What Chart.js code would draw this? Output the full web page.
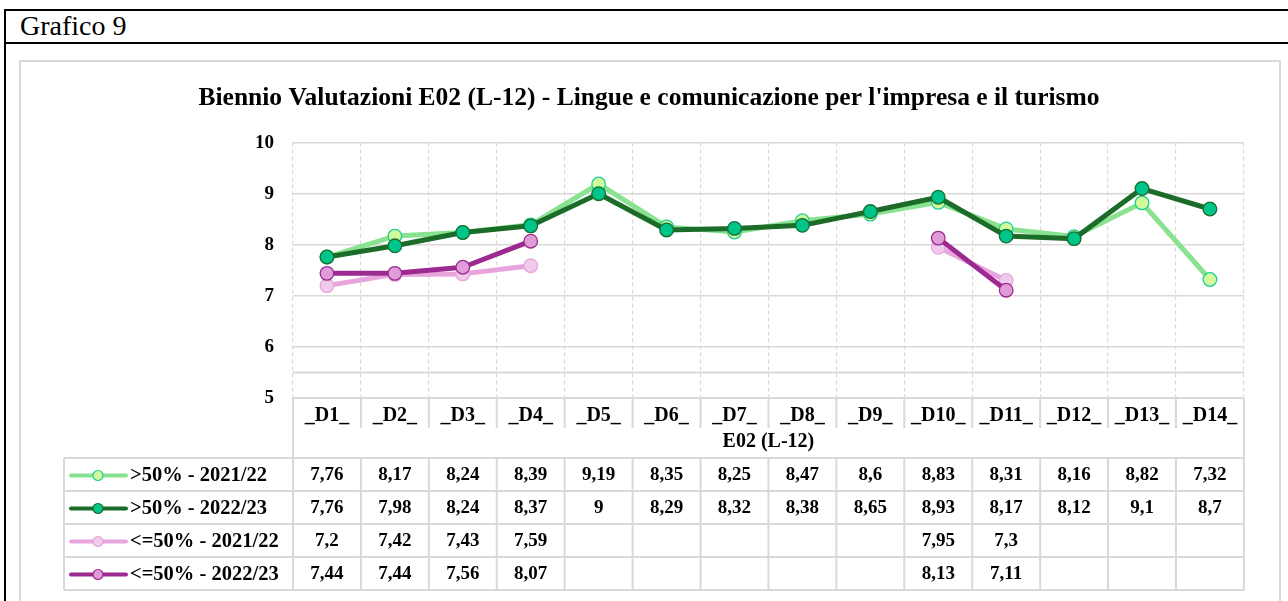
<!DOCTYPE html>
<html>
<head>
<meta charset="utf-8">
<script src="https://cdn.jsdelivr.net/npm/chart.js@4.4.0/dist/chart.umd.min.js"></script>
<style>
html,body{margin:0;padding:0;background:#fff;width:1288px;height:601px;overflow:hidden;}
#frame{position:absolute;left:4px;top:9px;width:1400px;height:700px;border:2px solid #000;}
#head{position:absolute;left:0;top:0;width:100%;height:31px;border-bottom:2px solid #000;}
#head span{position:absolute;left:14px;top:1px;font:28px/1 'Liberation Serif',serif;color:#000;}
#box{position:absolute;left:19px;top:60px;width:1258px;height:600px;border:2px solid #d9d9d9;}
#wrap{position:absolute;left:0;top:0;}
</style>
</head>
<body>
<div id="frame"><div id="head"><span>Grafico 9</span></div></div>
<div id="box"></div>
<div id="wrap"><canvas id="chart" width="1252" height="601"></canvas></div>
<script>
const chartTitle = "Biennio Valutazioni E02 (L-12) - Lingue e comunicazione per l'impresa e il turismo";
const axisGroup = 'E02 (L-12)';
const categories = ['_D1_','_D2_','_D3_','_D4_','_D5_','_D6_','_D7_','_D8_','_D9_','_D10_','_D11_','_D12_','_D13_','_D14_'];
const seriesNames = ['>50% - 2021/22','>50% - 2022/23','<=50% - 2021/22','<=50% - 2022/23'];
const over2122  = [7.76,8.17,8.24,8.39,9.19,8.35,8.25,8.47,8.6,8.83,8.31,8.16,8.82,7.32];
const over2223  = [7.76,7.98,8.24,8.37,9,8.29,8.32,8.38,8.65,8.93,8.17,8.12,9.1,8.7];
const under2122 = [7.2,7.42,7.43,7.59,null,null,null,null,null,7.95,7.3,null,null,null];
const under2223 = [7.44,7.44,7.56,8.07,null,null,null,null,null,8.13,7.11,null,null,null];
const yMin = 5, yMax = 10, yStep = 1;

const FONT = "'Liberation Serif', serif";
const GRID = '#d9d9d9';

const styles = [
  {line:'#88e28f', fill:'#d2fb9c', edge:'#1fcf96'},
  {line:'#1b6c29', fill:'#00c58b', edge:'#17702c'},
  {line:'#e8a4dd', fill:'#f1cbec', edge:'#e8a4dd'},
  {line:'#9c2a8f', fill:'#e09bd9', edge:'#9c2a8f'}
];
const allSeries = [over2122, over2223, under2122, under2223];

const fmt = v => v==null ? '' : String(v).replace('.', ',');

// data table drawn under the plot, columns taken from the x scale
const dataTable = {
  id:'dataTable',
  beforeDatasetsDraw(chart){
    const {ctx, chartArea:a, scales:{y}} = chart;
    ctx.save();
    ctx.strokeStyle = GRID; ctx.lineWidth = 2;
    const yy = y.getPixelForValue(5.5);
    ctx.beginPath(); ctx.moveTo(a.left, yy); ctx.lineTo(a.right, yy); ctx.stroke();
    ctx.restore();
  },
  afterDraw(chart){
    const {ctx, chartArea:a, scales:{x}} = chart;
    const n = categories.length;
    const colW = (a.right - a.left)/n;
    const catBottom = a.bottom + 30;
    const rowsTop = a.bottom + 60;
    const rowH = 33;
    const legLeft = a.left - 229;
    ctx.save();
    ctx.strokeStyle = GRID; ctx.lineWidth = 2;
    ctx.beginPath();
    for (let i=0;i<=n;i++){
      const xx = a.left + i*colW;
      ctx.moveTo(xx, a.bottom); ctx.lineTo(xx, catBottom);
      ctx.moveTo(xx, rowsTop); ctx.lineTo(xx, rowsTop + rowH*seriesNames.length);
    }
    ctx.moveTo(a.left, a.bottom); ctx.lineTo(a.left, rowsTop);
    ctx.moveTo(a.right, a.bottom); ctx.lineTo(a.right, rowsTop);
    ctx.moveTo(legLeft, rowsTop); ctx.lineTo(legLeft, rowsTop + rowH*seriesNames.length);
    for (let k=0;k<=seriesNames.length;k++){
      ctx.moveTo(legLeft, rowsTop + k*rowH); ctx.lineTo(a.right, rowsTop + k*rowH);
    }
    ctx.stroke();

    ctx.fillStyle = '#000';
    ctx.textBaseline = 'middle';
    ctx.textAlign = 'center';
    ctx.font = 'bold 20px ' + FONT;
    ctx.fillText(axisGroup, (a.left + a.right)/2, a.bottom + 44);

    allSeries.forEach((vals, k) => {
      const cy = rowsTop + k*rowH + rowH/2 + 1;
      ctx.font = 'bold 19px ' + FONT;
      ctx.textAlign = 'center';
      vals.forEach((v, i) => { if (v!=null) ctx.fillText(fmt(v), x.getPixelForValue(i), cy); });
      const s = styles[k];
      ctx.strokeStyle = s.line; ctx.lineWidth = 4; ctx.lineCap = 'round';
      ctx.beginPath(); ctx.moveTo(legLeft + 7, cy); ctx.lineTo(legLeft + 62, cy); ctx.stroke();
      ctx.beginPath(); ctx.arc(legLeft + 34, cy, 5, 0, Math.PI*2);
      ctx.fillStyle = s.fill; ctx.fill();
      ctx.lineWidth = 1.2; ctx.strokeStyle = s.edge; ctx.stroke();
      ctx.fillStyle = '#000'; ctx.textAlign = 'left';
      ctx.font = 'bold 20.5px ' + FONT;
      ctx.fillText(seriesNames[k], legLeft + 66, cy);
    });
    ctx.restore();
  }
};

new Chart(document.getElementById('chart'), {
  type:'line',
  data:{
    labels:categories,
    datasets: allSeries.map((vals, k) => ({
      label:seriesNames[k],
      data:vals,
      borderColor:styles[k].line,
      backgroundColor:styles[k].fill,
      borderWidth:5,
      borderJoinStyle:'round',
      borderCapStyle:'round',
      pointRadius:6.8,
      pointHoverRadius:6.8,
      pointBackgroundColor:styles[k].fill,
      pointBorderColor:styles[k].edge,
      pointBorderWidth:1.3,
      spanGaps:false,
      tension:0,
      order:4-k
    }))
  },
  options:{
    responsive:false,
    animation:false,
    layout:{padding:{left:49, right:3, top:83, bottom:173}},
    plugins:{
      legend:{display:false},
      tooltip:{enabled:false},
      title:{display:true, text:chartTitle, color:'#000',
        font:{family:FONT, size:25.5, weight:'bold'}, padding:{top:0, bottom:29}}
    },
    scales:{
      x:{
        offset:true,
        grid:{color:GRID, lineWidth:1.2, drawTicks:false, offset:true},
        border:{display:true, color:GRID, width:2, dash:[4,3]},
        ticks:{color:'#000', padding:6, font:{family:FONT, size:20, weight:'bold'}, maxRotation:0, autoSkip:false},
        afterFit(s){ s.height = 30; }
      },
      y:{
        min:yMin, max:yMax,
        grid:{color:GRID, lineWidth:1.5, drawTicks:false},
        border:{display:false},
        ticks:{stepSize:yStep, color:'#000', padding:19, font:{family:FONT, size:19, weight:'bold'}},
        afterFit(s){ s.width = 244; }
      }
    }
  },
  plugins:[dataTable]
});
</script>
</body>
</html>
